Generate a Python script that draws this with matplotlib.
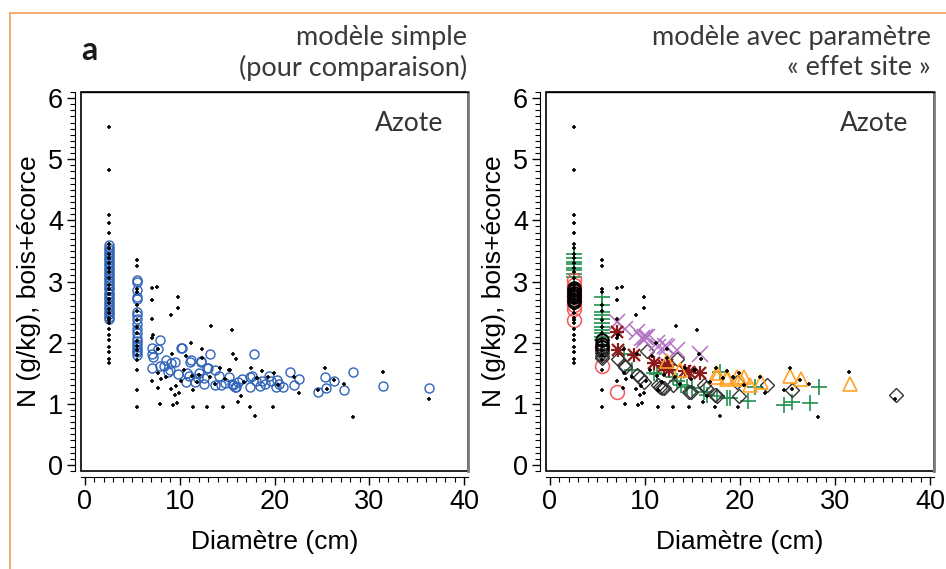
import matplotlib
matplotlib.use("Agg")
import matplotlib.pyplot as plt
from matplotlib.lines import Line2D
from matplotlib.ticker import MultipleLocator

# ---------------- data ----------------
# observed values (black crosses), same in both panels
obs_diam = [2.5]*30 + [5.5]*17 + [
    7.04, 7.56, 7.04, 9.85, 9.85, 9.08, 7.04, 13.3, 15.5, 7.2, 7.04, 11.15, 12.3, 9.15,
    10.7, 15.65, 15.9, 7.74, 12.3, 17.5, 18.65, 15.2, 14.2, 7.74, 11.3, 8.6, 7.04, 8.0,
    10.1, 13.2, 13.7, 7.67, 9.08, 9.57, 11.4, 9.9, 9.5, 16.5, 16.1, 7.9, 9.25, 9.7,
    11.4, 12.9, 14.6, 17.4, 17.9, 19.8, 19.3, 15.3, 25.3, 31.5, 19.9, 22.1, 27.3, 22.6,
    24.6, 25.5, 26.3, 28.25, 36.3, 12.0, 14.8, 16.8, 18.2, 20.4, 10.5, 11.8]
obs_n = [5.53, 4.83, 4.08, 3.96, 3.80, 3.62, 3.55, 3.45, 3.38, 3.30, 3.22, 3.15, 3.05, 2.95,
         2.88, 2.80, 2.72, 2.65, 2.55, 2.48, 2.41, 2.37, 2.32, 2.22, 2.12, 2.04, 1.93, 1.85,
         1.74, 1.67] + \
        [3.35, 3.25, 2.87, 2.83, 2.61, 2.52, 2.37, 2.25, 2.15, 2.02, 1.95, 1.88, 1.80, 1.72,
         1.56, 1.22, 0.94] + [
    2.89, 2.91, 2.69, 2.74, 2.56, 2.45, 2.38, 2.27, 2.20, 2.12, 2.07, 2.00, 1.90, 1.81,
    1.78, 1.81, 1.74, 1.89, 1.75, 1.59, 1.54, 1.56, 1.59, 1.51, 1.45, 1.43, 1.38, 1.40,
    1.38, 1.43, 1.33, 1.25, 1.24, 1.29, 1.23, 1.18, 1.14, 1.13, 1.03, 1.00, 0.98, 1.02,
    0.95, 0.95, 0.95, 0.94, 0.80, 0.94, 1.44, 1.55, 1.59, 1.52, 1.50, 1.43, 1.32, 1.18,
    1.23, 1.24, 1.39, 0.78, 1.08, 1.47, 1.40, 1.36, 1.42, 1.30, 1.55, 1.35]

# simple model predictions (blue circles)
pred_diam = [2.5]*31 + [5.5]*18 + [
    7.9, 10.1, 7.04, 7.74, 13.2, 17.8, 7.04, 7.2, 11.15, 12.2, 8.6, 9.45, 9.1, 7.9, 8.3,
    7.04, 10.8, 12.0, 13.0, 13.7, 11.9, 12.6, 14.1, 15.2, 10.7, 11.6, 12.6, 13.7, 14.4,
    15.5, 15.9, 16.6, 17.4, 17.6, 17.4, 18.5, 18.65, 19.4, 19.6, 20.3, 20.5, 20.2, 10.2,
    21.6, 22.6, 22.1, 24.6, 25.3, 25.4, 26.3, 27.3, 28.25, 31.5, 36.3, 20.9, 15.65, 15.8,
    12.2, 11.1, 12.9, 9.0, 9.8, 8.8, 11.0, 14.8, 16.2, 18.0, 19.0]
pred_n = [3.60, 3.55, 3.51, 3.46, 3.43, 3.38, 3.35, 3.30, 3.27, 3.22, 3.19, 3.14, 3.11,
          3.06, 3.03, 2.98, 2.95, 2.90, 2.87, 2.82, 2.79, 2.74, 2.71, 2.66, 2.63, 2.58,
          2.55, 2.50, 2.47, 2.42, 2.39] + \
         [3.02, 3.00, 2.86, 2.75, 2.72, 2.50, 2.45, 2.38, 2.30, 2.22, 2.15, 2.08, 2.02,
          1.98, 1.93, 1.88, 1.84, 1.80] + [
    2.04, 1.91, 1.91, 1.89, 1.81, 1.81, 1.82, 1.76, 1.72, 1.69, 1.72, 1.69, 1.66, 1.62,
    1.61, 1.58, 1.51, 1.50, 1.58, 1.55, 1.42, 1.42, 1.45, 1.43, 1.35, 1.36, 1.33, 1.30,
    1.30, 1.33, 1.28, 1.40, 1.44, 1.46, 1.28, 1.29, 1.37, 1.45, 1.37, 1.39, 1.33, 1.28,
    1.91, 1.52, 1.40, 1.31, 1.20, 1.44, 1.25, 1.38, 1.23, 1.52, 1.29, 1.26, 1.27, 1.31,
    1.27, 1.70, 1.68, 1.58, 1.55, 1.48, 1.52, 1.45, 1.34, 1.36, 1.38, 1.32]

# site-effect model predictions, one group per site
siteA_diam = [2.5]*8 + [5.5]*11 + [
    7.74, 8.6, 10.9, 11.3, 13.0, 13.4, 13.8, 14.4, 15.0, 16.2, 16.5, 17.6, 17.9, 18.6,
    19.0, 20.8, 21.6, 24.6, 25.5, 27.4, 28.3]
siteA_n = [3.45, 3.38, 3.32, 3.28, 3.22, 3.18, 3.12, 3.08] + \
          [2.75, 2.62, 2.50, 2.45, 2.38, 2.32, 2.26, 2.20, 2.15, 2.10, 2.05] + [
    1.82, 1.55, 1.51, 1.49, 1.43, 1.38, 1.31, 1.28, 1.26, 1.20, 1.14, 1.12, 1.52, 1.09,
    1.09, 1.04, 1.27, 0.98, 1.03, 1.01, 1.28]

siteB_diam = [2.5]*9 + [5.5]*2 + [7.1]
siteB_n = [3.02, 2.95, 2.88, 2.82, 2.75, 2.68, 2.62, 2.55, 2.37, 1.93, 1.61, 1.20]

siteC_diam = [2.5]*7 + [5.5]*4
siteC_n = [2.90, 2.86, 2.82, 2.78, 2.74, 2.70, 2.66, 2.04, 1.98, 1.93, 1.88]

siteD_diam = [5.5, 5.5, 5.5, 7.2, 7.74, 7.9, 9.15, 9.5, 9.85, 10.2, 11.4, 11.6, 11.8,
              12.0, 13.0, 13.4, 14.6, 14.8, 16.2, 16.4, 17.4, 17.6, 19.7, 19.9, 22.8,
              25.5, 36.4]
siteD_n = [1.83, 1.78, 1.75, 1.73, 1.63, 1.60, 1.47, 1.44, 1.36, 1.87, 1.31, 1.28, 1.26,
           1.25, 1.31, 1.73, 1.20, 1.19, 1.31, 1.26, 1.15, 1.13, 1.35, 1.12, 1.31, 1.22,
           1.15]

siteE_diam = [7.04, 7.9, 9.15, 9.7, 9.85, 10.0, 10.2, 11.3, 11.4, 12.1, 12.3, 13.4, 15.8]
siteE_n = [2.34, 2.23, 2.18, 2.08, 2.04, 2.09, 2.09, 1.99, 1.93, 1.94, 1.93, 1.88, 1.82]

siteF_diam = [7.04, 7.2, 8.8, 10.9, 12.0, 12.3, 12.5, 14.2, 14.6, 15.8]
siteF_n = [2.18, 1.88, 1.80, 1.66, 1.61, 1.64, 1.55, 1.53, 1.52, 1.51]

siteG_diam = [12.3, 13.7, 17.6, 17.6, 18.6, 18.6, 19.7, 20.0, 20.4, 21.1, 22.2, 25.3,
              26.4, 31.6]
siteG_n = [1.70, 1.55, 1.44, 1.50, 1.41, 1.44, 1.44, 1.41, 1.44, 1.31, 1.36, 1.46, 1.41,
           1.32]

xticks = [0, 10, 20, 30, 40]
yticks = [0, 1, 2, 3, 4, 5, 6]

# ---------------- figure ----------------
plt.rcParams["font.family"] = ["Liberation Sans", "DejaVu Sans"]
TITLE_FONT = ["Lato", "DejaVu Sans"]

fig = plt.figure(figsize=(9.46, 5.69), dpi=100)
fig.patch.set_facecolor("white")

# orange frame
fig.add_artist(Line2D([10/946, 10/946], [0, 1 - 13/569], color="#f2a66a", lw=1.3,
                      transform=fig.transFigure))
fig.add_artist(Line2D([10/946, 1], [1 - 13/569, 1 - 13/569], color="#f2a66a", lw=1.3,
                      transform=fig.transFigure))

ax1 = fig.add_axes([81/946, 1 - 471/569, 387/946, 379/569])
ax2 = fig.add_axes([546/946, 1 - 471/569, 388/946, 379/569])


def style(ax):
    ax.set_xlim(-0.42, 40.42)
    ax.set_ylim(-0.1, 6.1)
    ax.set_xticks(xticks)
    ax.set_yticks(yticks)
    ax.xaxis.set_minor_locator(MultipleLocator(1))
    ax.yaxis.set_minor_locator(MultipleLocator(0.1))
    ax.tick_params(which="major", direction="out", length=6, width=1, labelsize=19.5,
                   pad=3)
    ax.tick_params(which="minor", direction="out", length=3.5, width=0.8)
    ax.spines["left"].set_position(("outward", 4))
    ax.spines["bottom"].set_position(("outward", 4))
    ax.spines["top"].set_linewidth(1)
    ax.spines["right"].set_color("#7a7a7a")
    ax.spines["right"].set_linewidth(2)
    ax.patch.set_edgecolor("black")
    ax.patch.set_linewidth(1.2)
    ax.set_xlabel("Diamètre (cm)", fontsize=19, labelpad=11)
    ax.set_ylabel("N (g/kg), bois+écorce", fontsize=19, labelpad=5)
    ax.text(0.935, 0.918, "Azote", transform=ax.transAxes, ha="right", va="center",
            fontsize=19, family=TITLE_FONT, color="#333333")


style(ax1)
style(ax2)

# left panel: simple model
ax1.plot(pred_diam, pred_n, "o", ms=6.5, mfc="none", mec="#2f63b8", mew=1.0, zorder=3)
ax1.plot(obs_diam, obs_n, "+", ms=3.0, color="black", mew=1.2, zorder=4)

# right panel: model with site effect
ax2.plot(siteA_diam, siteA_n, "+", ms=12, color="#23904e", mew=1.2, zorder=3)
ax2.plot(siteB_diam, siteB_n, "o", ms=10, mfc="none", mec="#f25a5a", mew=1.1, zorder=3)
ax2.plot(siteC_diam, siteC_n, "o", ms=9, mfc="none", mec="black", mew=1.4, zorder=3)
ax2.plot(siteD_diam, siteD_n, "D", ms=7.5, mfc="none", mec="#333333", mew=1.0, zorder=3)
ax2.plot(siteE_diam, siteE_n, "x", ms=12, color="#b273c2", mew=1.1, zorder=3)
for m, s in [("+", 10), ("x", 8)]:
    ax2.plot(siteF_diam, siteF_n, m, ms=s, color="#8b1a1a", mew=1.6, zorder=3)
ax2.plot(siteG_diam, siteG_n, "^", ms=10, mfc="none", mec="#ffa326", mew=1.2, zorder=3)
ax2.plot(obs_diam, obs_n, "+", ms=3.0, color="black", mew=1.2, zorder=4)

# headings
fig.text(81/946, 1 - 51/569, "a", fontsize=23, fontweight="bold", family=TITLE_FONT,
         ha="left", va="center", color="#1a1a1a")
fig.text(467/946, 1 - 25/569, "modèle simple\n(pour comparaison)", fontsize=19.5,
         family=TITLE_FONT, ha="right", va="top", color="#3a3a3a", linespacing=1.25)
fig.text(931/946, 1 - 25/569, "modèle avec paramètre\n« effet site »", fontsize=19.5,
         family=TITLE_FONT, ha="right", va="top", color="#3a3a3a", linespacing=1.25)

fig.savefig("out.png", dpi=100, facecolor="white")
